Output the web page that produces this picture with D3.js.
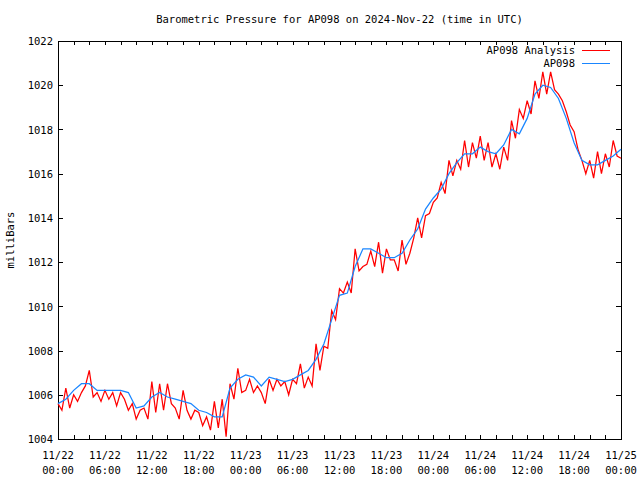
<!DOCTYPE html>
<html><head><meta charset="utf-8">
<script src="https://cdn.jsdelivr.net/npm/d3@7/dist/d3.min.js"></script>
<style>
body{margin:0;background:#fff}
svg{display:block}
text{font-family:"DejaVu Sans Mono","Liberation Mono",monospace;font-size:10.5px;fill:#000}
</style>
</head><body>
<svg id="c" width="640" height="480"></svg>
<script>
const title = "Barometric Pressure for AP098 on 2024-Nov-22 (time in UTC)";
const yLabel = "milliBars";
const seriesNames = ["AP098 Analysis", "AP098"];
const seriesColors = ["#ff0000", "#1a86ff"];
const yTicks = [1004, 1006, 1008, 1010, 1012, 1014, 1016, 1018, 1020, 1022];
const xTickHours = [0, 6, 12, 18, 24, 30, 36, 42, 48, 54, 60, 66, 72];
const xTickDates = ["11/22","11/22","11/22","11/22","11/23","11/23","11/23","11/23","11/24","11/24","11/24","11/24","11/25"];
const xTickTimes = ["00:00","06:00","12:00","18:00","00:00","06:00","12:00","18:00","00:00","06:00","12:00","18:00","00:00"];

// AP098 observations, hourly from 11/22 00:00
const obsValues = [
 1005.6,1005.8,1006.2,1006.5,1006.5,1006.2,1006.2,1006.2,1006.2,1006.1,
 1005.4,1005.5,1005.9,1006.1,1005.9,1005.8,1005.7,1005.6,1005.3,1005.2,
 1005.0,1005.0,1006.3,1006.7,1006.9,1006.8,1006.4,1006.8,1006.7,1006.6,
 1006.7,1006.9,1007.1,1007.6,1008.3,1009.4,1010.5,1010.6,1011.8,1012.6,
 1012.6,1012.4,1012.2,1012.2,1012.4,1013.0,1013.5,1014.4,1014.9,1015.3,
 1016.0,1016.5,1016.9,1016.9,1017.2,1017.0,1016.9,1017.3,1018.0,1017.8,
 1018.5,1019.6,1020.0,1019.9,1019.4,1018.5,1017.4,1016.6,1016.4,1016.4,
 1016.6,1016.8,1017.1
];
// AP098 Analysis, every 30 minutes from 11/22 00:00
const anaValues = [
 1005.6,1005.3,1006.3,1005.4,1006.0,1005.7,1006.1,1006.4,1007.1,1005.9,
 1006.1,1005.7,1006.2,1005.8,1006.1,1005.5,1006.1,1005.8,1005.3,1005.6,
 1004.9,1005.3,1005.4,1004.9,1006.6,1005.2,1006.5,1005.3,1006.5,1005.6,
 1005.4,1004.9,1006.2,1005.3,1004.9,1005.3,1005.2,1004.6,1005.0,1004.4,
 1005.7,1004.5,1005.8,1004.1,1006.5,1005.8,1007.2,1006.1,1006.2,1006.7,
 1006.1,1006.4,1006.1,1005.6,1006.7,1006.2,1006.7,1006.4,1006.6,1006.0,
 1006.7,1006.5,1007.4,1006.3,1006.8,1006.4,1008.3,1007.1,1008.2,1008.1,
 1009.8,1009.4,1010.8,1010.6,1011.1,1010.6,1012.6,1011.6,1011.8,1011.9,
 1012.5,1011.8,1012.9,1011.5,1012.6,1012.1,1012.1,1011.6,1013.0,1011.9,
 1012.4,1013.1,1014.0,1013.1,1014.1,1014.2,1014.7,1014.9,1015.6,1015.1,
 1016.6,1015.9,1016.6,1016.2,1017.5,1016.3,1017.4,1016.7,1017.7,1016.6,
 1017.4,1016.3,1016.9,1016.2,1017.2,1016.6,1018.4,1017.6,1018.9,1018.5,
 1019.3,1018.7,1020.2,1019.4,1020.6,1019.6,1020.6,1019.8,1019.6,1019.3,
 1018.8,1018.2,1017.9,1017.1,1016.6,1016.0,1016.6,1015.8,1017.0,1016.0,
 1016.9,1016.3,1017.5,1016.8,1016.7
];
const obsHours = obsValues.map((v, i) => i);
const anaHours = anaValues.map((v, i) => i * 0.5);

const L = 58, R = 621, T = 41, B = 439;
const svg = d3.select("#c");
const x = d3.scaleLinear().domain([0, 72]).range([L, R]);
const y = d3.scaleLinear().domain([1004, 1022]).range([B, T]);
const minorHours = d3.range(0, 73, 2);

// axes (ticks inward, mirrored)
const gl = svg.append("g").attr("transform", `translate(${L},0)`)
  .call(d3.axisLeft(y).tickValues(yTicks).tickSize(-5).tickPadding(5).tickFormat(d3.format("d")));
const gr = svg.append("g").attr("transform", `translate(${R},0)`)
  .call(d3.axisRight(y).tickValues(yTicks).tickSize(-5).tickFormat(""));
const gb = svg.append("g").attr("transform", `translate(0,${B})`)
  .call(d3.axisBottom(x).tickValues(minorHours).tickSize(-4).tickFormat(""));
const gt = svg.append("g").attr("transform", `translate(0,${T})`)
  .call(d3.axisTop(x).tickValues(minorHours).tickSize(-4).tickFormat(""));
[gl, gr, gb, gt].forEach(g => {
  g.select(".domain").remove();
  g.selectAll("line").attr("stroke", "#000").attr("shape-rendering", "crispEdges");
  g.selectAll("text").attr("font-family", null).attr("font-size", null).attr("fill", "#000");
});
gl.selectAll("text").attr("dy", "0.35em");

// x tick labels, two lines
const xl = svg.append("g");
xTickHours.forEach((h, i) => {
  xl.append("text").attr("x", x(h)).attr("y", 455).attr("dy", "0.35em")
    .attr("text-anchor", "middle").text(xTickDates[i]);
  xl.append("text").attr("x", x(h)).attr("y", 470).attr("dy", "0.35em")
    .attr("text-anchor", "middle").text(xTickTimes[i]);
});

// frame
svg.append("rect").attr("x", L + 0.5).attr("y", T + 0.5)
  .attr("width", R - L).attr("height", B - T)
  .attr("fill", "none").attr("stroke", "#000").attr("stroke-width", 1)
  .attr("shape-rendering", "crispEdges");

// lines
const line = d3.line().x(d => x(d[0])).y(d => y(d[1]));
svg.append("path").datum(anaHours.map((h, i) => [h, anaValues[i]]))
  .attr("d", line).attr("fill", "none").attr("stroke", seriesColors[0])
  .attr("stroke-width", 1.25).attr("stroke-linejoin", "miter");
svg.append("path").datum(obsHours.map((h, i) => [h, obsValues[i]]))
  .attr("d", line).attr("fill", "none").attr("stroke", seriesColors[1])
  .attr("stroke-width", 1.25);

// title & y label
svg.append("text").attr("x", (L + R) / 2).attr("y", 19).attr("dy", "0.35em")
  .attr("text-anchor", "middle").text(title);
svg.append("text").attr("transform", "translate(10,240) rotate(-90)")
  .attr("dy", "0.35em").attr("text-anchor", "middle").text(yLabel);

// legend
const legY = [50, 63];
seriesNames.forEach((n, i) => {
  svg.append("text").attr("x", 575).attr("y", legY[i]).attr("dy", "0.35em")
    .attr("text-anchor", "end").text(n);
  svg.append("line").attr("x1", 582).attr("x2", 610)
    .attr("y1", legY[i] + 0.5).attr("y2", legY[i] + 0.5)
    .attr("stroke", seriesColors[i]).attr("stroke-width", 1)
    .attr("shape-rendering", "crispEdges");
});
</script>
</body></html>
